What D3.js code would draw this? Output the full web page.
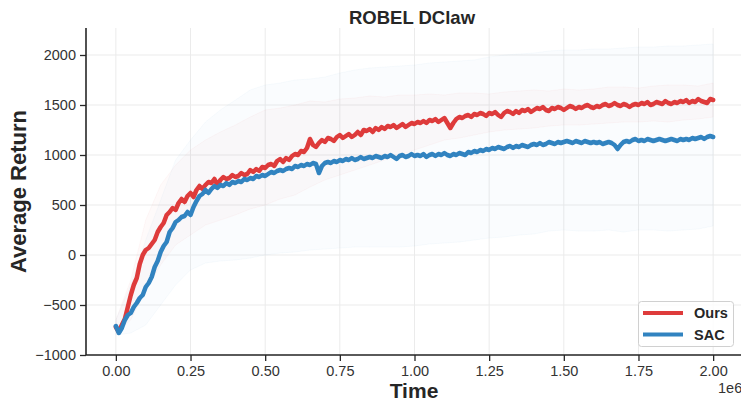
<!DOCTYPE html>
<html><head><meta charset="utf-8">
<script src="https://cdn.jsdelivr.net/npm/d3@7"></script>
<style>
body{margin:0;background:#fff;}
svg{display:block;font-family:"Liberation Sans",Arial,Helvetica,sans-serif;}
</style></head>
<body><svg id="c" width="741" height="403"></svg>
<script>
// ---- data (time in units of 1e6 steps) ----
const title = "ROBEL DClaw";
const xLabel = "Time";
const yLabel = "Average Return";
const seriesNames = ["Ours", "SAC"];
const xTicks = [0, 0.25, 0.5, 0.75, 1.0, 1.25, 1.5, 1.75, 2.0];
const yTicks = [-1000, -500, 0, 500, 1000, 1500, 2000];
const meanStep = 0.01;
const oursMean = [-720,-770,-700,-640,-520,-400,-300,-230,-90,0,
  50,70,110,150,230,280,320,400,430,470,
  450,520,560,530,590,620,580,650,690,660,
  700,730,720,760,700,750,780,760,770,800,
  780,790,820,800,810,850,830,860,840,880,
  870,900,910,890,940,960,930,970,950,990,
  1010,1000,1040,1030,1070,1160,1100,1080,1120,1150,
  1130,1170,1160,1140,1180,1200,1170,1190,1210,1180,
  1200,1230,1200,1250,1240,1260,1230,1270,1250,1280,
  1260,1290,1280,1300,1270,1290,1310,1280,1300,1320,
  1310,1330,1320,1340,1320,1350,1340,1360,1330,1350,
  1370,1320,1270,1320,1360,1380,1370,1390,1400,1380,
  1410,1400,1420,1410,1390,1420,1410,1430,1400,1380,
  1420,1440,1430,1410,1440,1420,1450,1440,1460,1430,
  1450,1470,1460,1480,1450,1440,1470,1460,1480,1470,
  1450,1470,1490,1480,1460,1480,1470,1490,1500,1480,
  1470,1490,1480,1500,1510,1490,1500,1520,1500,1490,
  1510,1500,1480,1500,1510,1500,1520,1510,1530,1500,
  1510,1530,1520,1510,1540,1520,1510,1530,1520,1540,
  1530,1550,1520,1540,1530,1560,1540,1530,1520,1560,
  1550];
const sacMean = [-710,-780,-730,-650,-600,-580,-520,-480,-430,-400,
  -320,-280,-220,-120,-60,30,90,130,230,270,
  330,350,380,390,430,400,480,540,590,610,
  650,620,660,690,670,700,690,720,700,730,
  720,740,730,760,750,770,760,790,780,800,
  790,810,830,820,840,850,840,860,870,860,
  890,880,900,890,910,900,920,910,820,890,
  920,930,920,940,930,950,940,960,950,970,
  950,960,980,960,970,980,970,990,980,970,
  990,980,1000,980,960,990,1000,980,990,1010,
  990,1000,990,1010,980,1000,1010,990,1010,1000,
  1020,1000,990,1010,1000,1020,1010,1000,1030,1020,
  1040,1030,1050,1040,1060,1050,1070,1060,1080,1070,
  1060,1080,1090,1070,1090,1080,1100,1090,1080,1100,
  1110,1100,1120,1100,1110,1130,1120,1110,1130,1120,
  1130,1140,1130,1120,1140,1130,1120,1140,1130,1120,
  1130,1120,1130,1110,1120,1130,1120,1100,1060,1100,
  1130,1140,1130,1150,1160,1140,1150,1140,1160,1150,
  1140,1150,1160,1150,1140,1150,1160,1150,1140,1160,
  1150,1160,1150,1170,1160,1170,1180,1160,1180,1190,
  1180];
const bandStep = 0.05;
const oursUpper = [-650,-250,350,700,900,1050,1150,1230,1300,1380,1450,1470,1500,1540,1530,1560,1570,1590,1580,1600,
  1600,1610,1600,1620,1620,1610,1630,1640,1650,1640,1660,1650,1660,1680,1680,1670,1690,1700,1700,1690,1720];
const oursLower = [-780,-650,-350,-100,100,200,300,350,400,460,500,560,600,680,750,800,850,900,950,1000,
  1050,1100,1150,1170,1200,1230,1250,1260,1270,1290,1300,1300,1310,1320,1330,1330,1340,1330,1350,1360,1380];
const sacUpper = [-650,-300,150,550,950,1150,1330,1450,1550,1650,1700,1720,1750,1760,1780,1820,1850,1870,1880,1890,
  1900,1920,1930,1940,1950,1980,2000,2010,2020,2040,2050,2050,2060,2060,2070,2080,2080,2090,2090,2100,2110];
const sacLower = [-800,-780,-700,-500,-300,-150,-80,-60,-50,-30,0,20,30,50,60,70,80,80,80,80,
  90,110,120,130,150,170,180,200,210,240,250,240,240,250,230,250,250,240,250,260,290];
const colors = ["#de3b3b", "#3183c0"];

// ---- layout ----
const svg = d3.select("#c");
const L = 86, R = 743, T = 28, B = 355;
const x = d3.scaleLinear().domain([-0.1, 2.1]).range([L, R]);
const y = d3.scaleLinear().domain([-1000, 2270]).range([B, T]);
const ink = "#262626";

// grid
const g = svg.append("g");
g.selectAll(".gx").data(xTicks).enter().append("line")
  .attr("x1", d => x(d)).attr("x2", d => x(d)).attr("y1", T).attr("y2", B)
  .attr("stroke", "#ebebeb").attr("stroke-width", 1);
g.selectAll(".gy").data(yTicks).enter().append("line")
  .attr("x1", L).attr("x2", R).attr("y1", d => y(d)).attr("y2", d => y(d))
  .attr("stroke", "#ebebeb").attr("stroke-width", 1);

// bands
const bands = [[oursUpper, oursLower], [sacUpper, sacLower]];
bands.forEach((b, i) => {
  const pts = b[0].map((u, k) => ({t: k * bandStep, u: u, l: b[1][k]}));
  const area = d3.area().x(d => x(d.t)).y0(d => y(d.l)).y1(d => y(d.u));
  svg.append("path").datum(pts).attr("d", area)
    .attr("fill", colors[i]).attr("fill-opacity", 0.022)
    .attr("stroke", colors[i]).attr("stroke-opacity", 0.035).attr("stroke-width", 1);
});

// mean lines
[oursMean, sacMean].forEach((m, i) => {
  const pts = m.map((v, k) => ({t: k * meanStep, v: v}));
  const line = d3.line().x(d => x(d.t)).y(d => y(d.v));
  svg.append("path").datum(pts).attr("d", line)
    .attr("fill", "none").attr("stroke", colors[i]).attr("stroke-width", 4.5)
    .attr("stroke-linejoin", "round").attr("stroke-linecap", "round");
});

// axes
const fmtX = d3.format(".2f");
const xAxis = d3.axisBottom(x).tickValues(xTicks).tickFormat(fmtX).tickSize(6).tickPadding(5);
const yAxis = d3.axisLeft(y).tickValues(yTicks).tickFormat(d => d < 0 ? "\u2212" + Math.abs(d) : String(d)).tickSize(6).tickPadding(4);
const gx = svg.append("g").attr("transform", `translate(0,${B})`).call(xAxis);
const gy = svg.append("g").attr("transform", `translate(${L},0)`).call(yAxis);
[gx, gy].forEach(a => {
  a.select(".domain").attr("stroke", ink).attr("stroke-width", 1.6);
  a.selectAll(".tick line").attr("stroke", ink).attr("stroke-width", 1.3);
  a.selectAll(".tick text").attr("fill", "#333").attr("font-size", "14.5px")
    .attr("font-family", '"Liberation Sans",Arial,sans-serif');
});
gx.select(".domain").attr("d", `M${L},0H${R}`);
gy.select(".domain").attr("d", `M0,${T}V${B}`);

// labels
svg.append("text").attr("x", 412).attr("y", 24).attr("text-anchor", "middle")
  .attr("font-size", "18.5px").attr("font-weight", "bold").attr("fill", ink).text(title);
svg.append("text").attr("x", 414).attr("y", 398).attr("text-anchor", "middle")
  .attr("font-size", "21px").attr("font-weight", "bold").attr("fill", ink).text(xLabel);
svg.append("text").attr("transform", `translate(26,${(T + B) / 2}) rotate(-90)`).attr("text-anchor", "middle")
  .attr("font-size", "22px").attr("font-weight", "bold").attr("fill", ink).text(yLabel);
svg.append("text").attr("x", 718).attr("y", 393).attr("font-size", "14.5px").attr("fill", "#333").text("1e6");

// legend
const lg = svg.append("g");
lg.append("rect").attr("x", 638.5).attr("y", 301.5).attr("width", 95).attr("height", 45).attr("rx", 3)
  .attr("fill", "#fff").attr("fill-opacity", 0.8).attr("stroke", "#d0d0d0").attr("stroke-width", 1);
seriesNames.forEach((n, i) => {
  const yy = 313 + i * 21.5;
  lg.append("line").attr("x1", 643).attr("x2", 683).attr("y1", yy).attr("y2", yy)
    .attr("stroke", colors[i]).attr("stroke-width", 4);
  lg.append("text").attr("x", 694).attr("y", yy + 5).attr("font-size", "14.5px").attr("font-weight", "bold")
    .attr("fill", ink).text(n);
});
</script></body></html>
